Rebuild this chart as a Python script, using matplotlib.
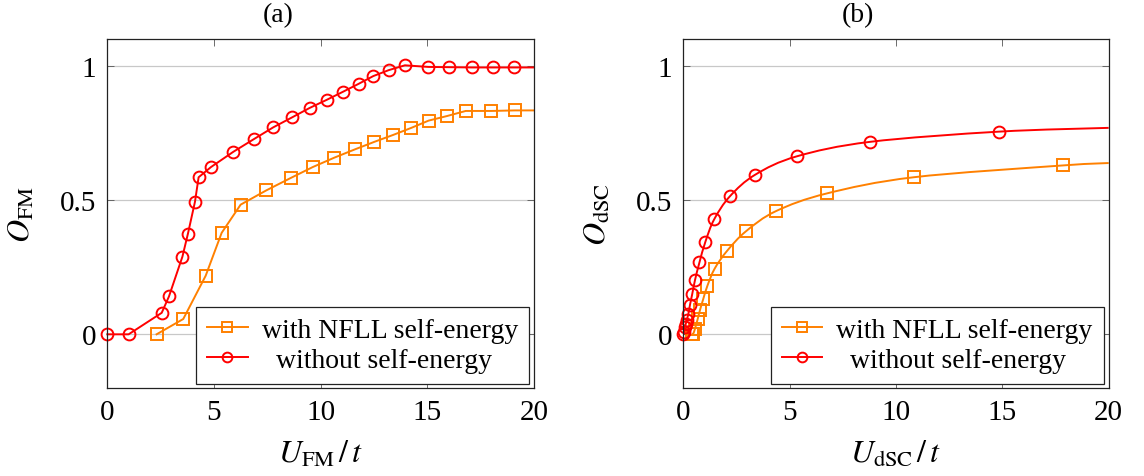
import numpy as np
import matplotlib
matplotlib.use("Agg")
import matplotlib.pyplot as plt
from matplotlib.path import Path
from matplotlib.patches import PathPatch
from matplotlib.lines import Line2D

plt.rcParams['font.family'] = ['Liberation Serif', 'DejaVu Serif']
plt.rcParams['mathtext.fontset'] = 'stix'

# ---------------- data ----------------
# panel (a)
fm_red_x = [0.0, 1.0, 2.55, 2.89, 3.52, 3.78, 4.11, 4.28, 4.86, 5.91, 6.89, 7.78, 8.66,
            9.48, 10.30, 11.06, 11.78, 12.47, 13.19, 13.95, 15.05, 16.03, 17.08, 18.06, 19.06, 20.0]
fm_red_y = [0.0, 0.0, 0.080, 0.141, 0.289, 0.375, 0.494, 0.585, 0.623, 0.680, 0.728, 0.771, 0.808,
            0.843, 0.874, 0.904, 0.933, 0.962, 0.984, 1.002, 0.996, 0.995, 0.994, 0.994, 0.994, 0.994]
fm_org_x = [2.31, 3.56, 4.61, 5.36, 6.25, 7.45, 8.59, 9.63, 10.64, 11.61, 12.52, 13.41, 14.25,
            15.06, 15.92, 16.80, 18.0, 19.11, 20.0]
fm_org_y = [0.0, 0.057, 0.218, 0.378, 0.483, 0.536, 0.582, 0.623, 0.658, 0.689, 0.717, 0.743, 0.769,
            0.796, 0.813, 0.832, 0.832, 0.834, 0.834]

# panel (b)
dsc_red_x = [0.0, 0.04, 0.08, 0.12, 0.16, 0.24, 0.31, 0.42, 0.55, 0.76, 1.04, 1.45, 2.19, 3.39,
             5.34, 8.79, 14.86, 20.0]
dsc_red_y = [0.0, 0.009, 0.027, 0.040, 0.052, 0.077, 0.108, 0.150, 0.202, 0.268, 0.345, 0.428,
             0.514, 0.595, 0.663, 0.717, 0.755, 0.769]
dsc_org_x = [0.40, 0.47, 0.55, 0.68, 0.78, 0.94, 1.13, 1.47, 2.05, 2.95, 4.36, 6.76, 10.83, 17.84, 20.0]
dsc_org_y = [0.0, 0.003, 0.021, 0.058, 0.089, 0.132, 0.180, 0.244, 0.310, 0.384, 0.459, 0.525,
             0.585, 0.629, 0.638]

x_ticks = [0, 5, 10, 15, 20]
y_ticks = [0, 0.5, 1]
y_ticklabels = ['0', '0.5', '1']
legend_labels = ['with NFLL self-energy', '  without self-energy']
titles = ['(a)', '(b)']
xlabels = [r'$U_{\mathrm{FM}}\,/\,t$', r'$U_{\mathrm{dSC}}\,/\,t$']
ylabels = [r'$O_{\mathrm{FM}}$', r'$O_{\mathrm{dSC}}$']

ORANGE = '#FF8000'
RED = '#FF0000'
FS = 21
LW = 1.4
MS_C = 8.5
MS_S = 8.5

W, H = 1144, 477
fig = plt.figure(figsize=(W / 100, H / 100), dpi=100)

ax_a = fig.add_axes([107.3 / W, 1 - 389 / H, 426.7 / W, 349 / H])
ax_b = fig.add_axes([683.3 / W, 1 - 389 / H, 425.4 / W, 349 / H])


def smooth_path(x, y, k=1 / 6):
    pts = np.column_stack([x, y]).astype(float)
    n = len(pts)
    verts = [pts[0]]
    codes = [Path.MOVETO]
    for i in range(n - 1):
        p0 = pts[i - 1] if i > 0 else pts[i]
        p1 = pts[i]
        p2 = pts[i + 1]
        p3 = pts[i + 2] if i + 2 < n else pts[i + 1]
        c1 = p1 + (p2 - p0) * k
        c2 = p2 - (p3 - p1) * k
        verts += [c1, c2, p2]
        codes += [Path.CURVE4] * 3
    return Path(verts, codes)


def style_axes(ax, idx):
    ax.set_xlim(0, 20)
    ax.set_ylim(-0.2, 1.1)
    ax.set_xticks(x_ticks)
    ax.set_yticks(y_ticks)
    ax.set_yticklabels(y_ticklabels)
    ax.tick_params(direction='in', top=True, right=True, length=5, width=0.6,
                   labelsize=FS, color='#555555', pad=8)
    ax.yaxis.grid(True, color='#c8c8c8', lw=0.9)
    ax.set_axisbelow(True)
    for s in ax.spines.values():
        s.set_linewidth(0.9)
        s.set_color('#222222')
    ax.set_xlabel(xlabels[idx], fontsize=FS + 2, labelpad=10)
    ax.set_ylabel(ylabels[idx], fontsize=FS + 2)
    ax.yaxis.set_label_coords(-0.165, 0.5)


# panel (a): straight segments
ax_a.plot(fm_org_x, fm_org_y, color=ORANGE, lw=LW, marker='s', ms=MS_S, mfc='none',
          mew=LW, markevery=list(range(len(fm_org_x) - 1)), clip_on=True)
ax_a.plot(fm_red_x, fm_red_y, color=RED, lw=LW, marker='o', ms=MS_C, mfc='none',
          mew=LW, markevery=list(range(len(fm_red_x) - 1)), clip_on=False)
style_axes(ax_a, 0)

# panel (b): smooth curves
ax_b.add_patch(PathPatch(smooth_path(dsc_org_x, dsc_org_y), fc='none', ec=ORANGE, lw=LW,
                         transform=ax_b.transData))
ax_b.plot(dsc_org_x[:-1], dsc_org_y[:-1], ls='none', color=ORANGE, marker='s', ms=MS_S,
          mfc='none', mew=LW, clip_on=False)
ax_b.add_patch(PathPatch(smooth_path(dsc_red_x, dsc_red_y), fc='none', ec=RED, lw=LW,
                         transform=ax_b.transData))
ax_b.plot(dsc_red_x[:-1], dsc_red_y[:-1], ls='none', color=RED, marker='o', ms=MS_C,
          mfc='none', mew=LW, clip_on=False)
style_axes(ax_b, 1)

handles = [Line2D([], [], color=ORANGE, lw=LW, marker='s', ms=7, mfc='none', mew=LW),
           Line2D([], [], color=RED, lw=LW, marker='o', ms=7, mfc='none', mew=LW)]
for ax in (ax_a, ax_b):
    leg = ax.legend(handles, legend_labels, loc='lower right', bbox_to_anchor=(0.988, 0.012),
                    borderaxespad=0, fontsize=FS - 1, frameon=True, fancybox=False,
                    edgecolor='#222222', framealpha=1, handlelength=1.45, handletextpad=0.5,
                    labelspacing=0.15, borderpad=0.4)
    leg.get_frame().set_linewidth(0.9)

fig.text(278 / W, 1 - 16 / H, titles[0], ha='center', va='center', fontsize=FS - 1)
fig.text(858 / W, 1 - 16 / H, titles[1], ha='center', va='center', fontsize=FS - 1)

fig.savefig('out.png', dpi=100)
